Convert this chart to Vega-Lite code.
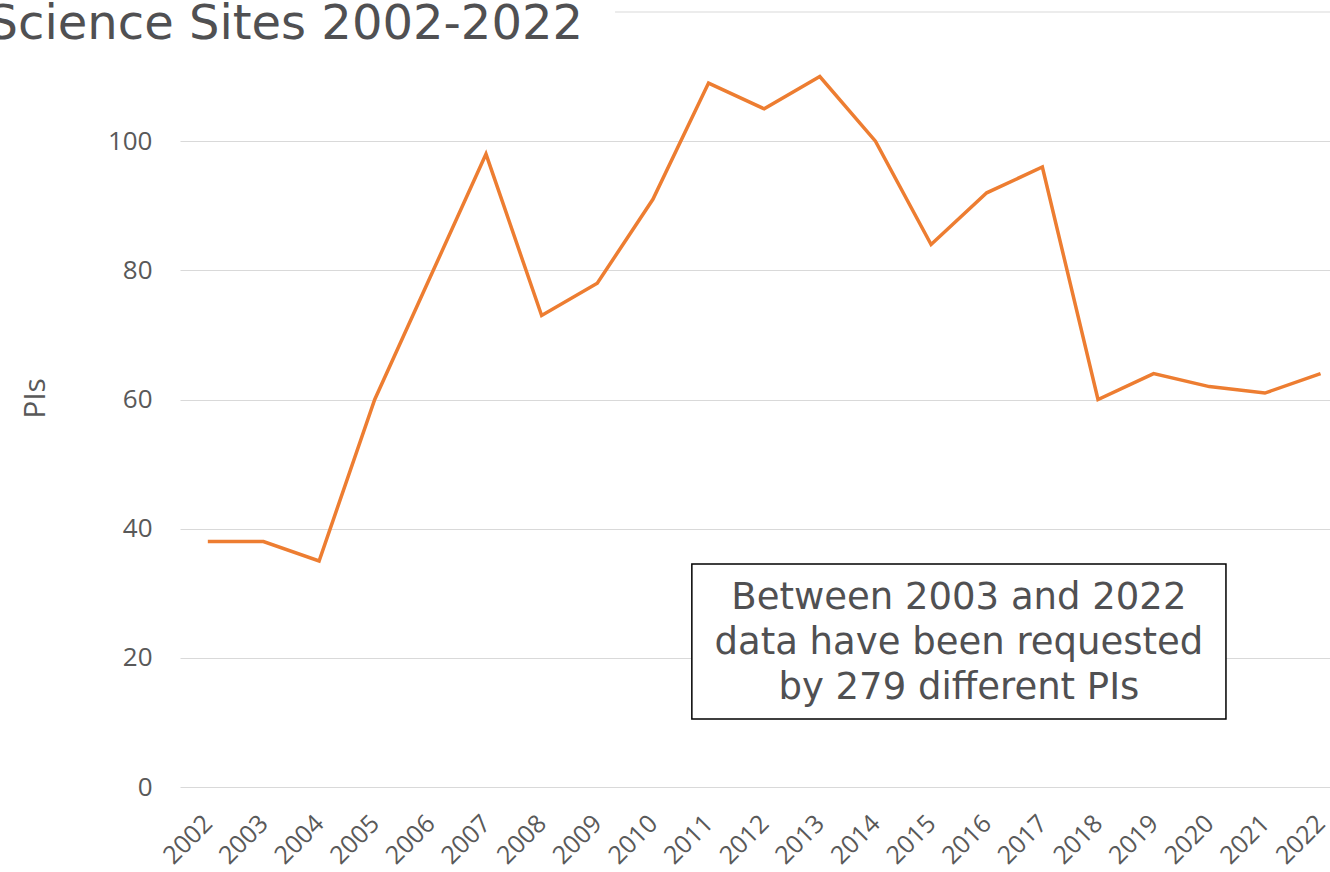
{
  "$schema": "https://vega.github.io/schema/vega-lite/v6.json",
  "width": 1150,
  "height": 775,
  "autosize": {"type": "none"},
  "padding": {"left": 180, "top": 12, "right": 0, "bottom": 85},
  "background": "white",
  "config": {"view": {"stroke": null}, "font": "Open Sans"},
  "title": {
    "text": "Science Sites 2002-2022",
    "frame": "group",
    "anchor": "start",
    "align": "right",
    "dx": 403,
    "dy": 75,
    "baseline": "alphabetic",
    "offset": 0,
    "font": "DejaVu Sans",
    "fontSize": 48,
    "fontWeight": "normal",
    "color": "#505052"
  },
  "encoding": {
    "x": {
      "field": "year", "type": "quantitative",
      "scale": {"domain": [2001.5, 2022.17], "nice": false, "zero": false},
      "axis": {
        "title": null,
        "values": [2002, 2003, 2004, 2005, 2006, 2007, 2008, 2009, 2010, 2011, 2012, 2013, 2014, 2015, 2016, 2017, 2018, 2019, 2020, 2021, 2022],
        "format": "d",
        "grid": false, "domain": false, "ticks": false,
        "labelAngle": -45, "labelAlign": "right", "labelBaseline": "middle",
        "labelPadding": 32, "labelFontSize": 25, "labelColor": "#595959",
        "labelFlush": false, "labelOverlap": false, "labelBound": false
      }
    },
    "y": {
      "field": "PIs", "type": "quantitative",
      "scale": {"domain": [0, 120], "nice": false},
      "axis": {
        "title": "PIs",
        "values": [0, 20, 40, 60, 80, 100],
        "grid": true, "gridColor": "#D9D9D9", "gridWidth": 1,
        "domain": false, "ticks": false,
        "labelFontSize": 26, "labelColor": "#595959", "labelPadding": 28,
        "titleFontSize": 30, "titleFontWeight": "normal", "titleColor": "#595959",
        "titleX": -145, "titleY": 386, "titleAngle": 270,
        "titleAlign": "center", "titleBaseline": "middle"
      }
    }
  },
  "layer": [
    {
      "data": {"values": [
        {"year": 2009.32, "year_end": 2022.17, "PIs": 120}
      ]},
      "mark": {"type": "rule", "color": "#D9D9D9", "strokeWidth": 1},
      "encoding": {
        "x2": {"field": "year_end"}
      }
    },
    {
      "data": {"values": [
        {"year": 2002, "PIs": 38},
        {"year": 2003, "PIs": 38},
        {"year": 2004, "PIs": 35},
        {"year": 2005, "PIs": 60},
        {"year": 2006, "PIs": 79},
        {"year": 2007, "PIs": 98},
        {"year": 2008, "PIs": 73},
        {"year": 2009, "PIs": 78},
        {"year": 2010, "PIs": 91},
        {"year": 2011, "PIs": 109},
        {"year": 2012, "PIs": 105},
        {"year": 2013, "PIs": 110},
        {"year": 2014, "PIs": 100},
        {"year": 2015, "PIs": 84},
        {"year": 2016, "PIs": 92},
        {"year": 2017, "PIs": 96},
        {"year": 2018, "PIs": 60},
        {"year": 2019, "PIs": 64},
        {"year": 2020, "PIs": 62},
        {"year": 2021, "PIs": 61},
        {"year": 2022, "PIs": 64}
      ]},
      "mark": {"type": "line", "color": "#ED7D31", "strokeWidth": 3.5},
      "encoding": {}
    },
    {
      "data": {"values": [
        {"year": 2010.7, "year_end": 2020.3, "PIs": 34.53, "PIs_end": 10.53}
      ]},
      "mark": {"type": "rect", "fill": "white", "stroke": "black", "strokeWidth": 1.5},
      "encoding": {
        "x2": {"field": "year_end"},
        "y2": {"field": "PIs_end"}
      }
    },
    {
      "data": {"values": [
        {"year": 2015.5, "PIs": 29.27, "label": "Between 2003 and 2022\ndata have been requested\nby 279 different PIs"}
      ]},
      "mark": {"type": "text", "font": "DejaVu Sans", "fontSize": 37, "color": "#505052", "lineHeight": 45, "lineBreak": "\n", "align": "center", "baseline": "middle"},
      "encoding": {
        "text": {"field": "label", "type": "nominal"}
      }
    }
  ]
}
